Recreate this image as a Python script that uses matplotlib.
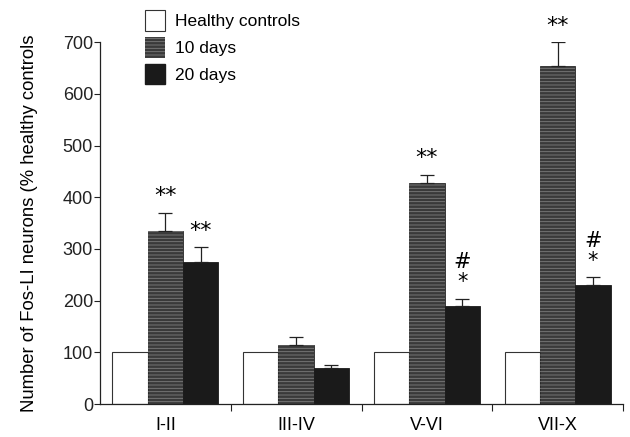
import matplotlib
matplotlib.use("Agg")
import matplotlib.pyplot as plt
import numpy as np
from matplotlib.patches import Patch

plt.rcParams['font.family'] = ['Liberation Sans', 'DejaVu Sans']
plt.rcParams['hatch.linewidth'] = 0.6

categories = ["I-II", "III-IV", "V-VI", "VII-X"]
series_names = ["Healthy controls", "10 days", "20 days"]
healthy = [100, 100, 100, 100]
days10 = [334, 115, 427, 654]
days10_err = [36, 14, 17, 46]
days20 = [274, 70, 190, 230]
days20_err = [29, 6, 14, 15]
ann10 = ["**", "", "**", "**"]
ann20 = ["**", "", "#\n*", "#\n*"]
yticks = [0, 100, 200, 300, 400, 500, 600, 700]

fig = plt.figure(figsize=(6.3, 4.37), dpi=100)
ax = fig.add_axes([0.1587, 0.0755, 0.8303, 0.8277])

n = len(categories)
centers = np.arange(n) + 0.5
w = 0.27

ax.bar(centers - w, healthy, w, facecolor='white', edgecolor='#333333', linewidth=0.8)
ax.bar(centers, days10, w, facecolor='#3a3a3a', edgecolor='#2a2a2a', linewidth=0.6)
ax.bar(centers, days10, w, facecolor='none', edgecolor='#7d7d7d', linewidth=0, hatch='-----')
ax.bar(centers + w, days20, w, facecolor='#1a1a1a', edgecolor='#1a1a1a', linewidth=0.6)

ax.errorbar(centers, days10, yerr=[np.zeros(n), days10_err], fmt='none', ecolor='#222222',
            elinewidth=0.9, capsize=5, capthick=0.9)
ax.errorbar(centers + w, days20, yerr=[np.zeros(n), days20_err], fmt='none', ecolor='#222222',
            elinewidth=0.9, capsize=5, capthick=0.9)

for i in range(n):
    if ann10[i]:
        ax.text(centers[i], days10[i] + days10_err[i] + 32, ann10[i], ha='center', va='center',
                fontsize=16, family='DejaVu Sans', clip_on=False)
    if ann20[i] == "**":
        ax.text(centers[i] + w, days20[i] + days20_err[i] + 32, ann20[i], ha='center', va='center',
                fontsize=16, family='DejaVu Sans', clip_on=False)
    elif ann20[i]:
        ax.text(centers[i] + w, days20[i] + days20_err[i] + 12, ann20[i], ha='center', va='bottom',
                fontsize=15, family='DejaVu Sans', linespacing=1.0, clip_on=False)

ax.set_xlim(0, n)
ax.set_ylim(0, 700)
ax.set_yticks(yticks)
ax.tick_params(axis='y', length=4, width=0.8, labelsize=13, pad=1, colors='#222222')
ax.set_xticks(np.arange(1, n + 1))
ax.set_xticklabels([])
ax.set_xticks(centers, minor=True)
ax.set_xticklabels(categories, minor=True)
ax.tick_params(axis='x', which='major', length=5, width=0.8, direction='out', colors='#222222')
ax.tick_params(axis='x', which='minor', length=0, labelsize=13, pad=9)
for s in ['top', 'right']:
    ax.spines[s].set_visible(False)
for s in ['left', 'bottom']:
    ax.spines[s].set_linewidth(0.9)
    ax.spines[s].set_color('#222222')

ax.set_ylabel("Number of Fos-LI neurons (% healthy controls", fontsize=13.3, labelpad=18)

handles = [Patch(facecolor='white', edgecolor='#333333', linewidth=0.8),
           Patch(facecolor='#3a3a3a', edgecolor='#7d7d7d', hatch='-----', linewidth=0),
           Patch(facecolor='#1a1a1a', edgecolor='#1a1a1a')]
leg = fig.legend(handles, series_names, loc='upper left', bbox_to_anchor=(0.213, 1.0),
                 frameon=False, fontsize=12.5, handlelength=1.2, handleheight=1.45,
                 handletextpad=0.55, labelspacing=0.35, borderaxespad=0.2)

fig.savefig("out.png", dpi=100)
